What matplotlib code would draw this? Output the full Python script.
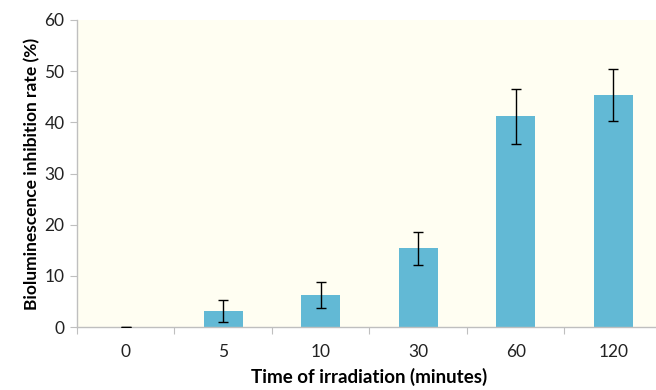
import numpy as np
import matplotlib.pyplot as plt

plt.rcParams['font.family'] = ['Lato', 'DejaVu Sans']

times = ['0', '5', '10', '30', '60', '120']
inhibition = [0.0, 3.1, 6.2, 15.4, 41.2, 45.3]
errors = [0.0, 2.2, 2.5, 3.2, 5.4, 5.1]

fig = plt.figure(figsize=(6.56, 3.9), dpi=100)
ax = fig.add_axes([77 / 656, 63 / 390, 585 / 656, 307 / 390])
ax.set_facecolor('#fffef2')

x = np.arange(len(times))
ax.bar(x, inhibition, width=0.4, color='#62b9d5', zorder=2)
ax.errorbar(x, inhibition, yerr=errors, fmt='none', ecolor='black',
            elinewidth=1, capsize=3.5, capthick=1, zorder=3)

ax.set_xlim(-0.5, len(times) - 0.5)
ax.set_ylim(0, 60)
ax.set_yticks(range(0, 61, 10))

# tick marks sit between categories, labels at the centres
ax.set_xticks(np.arange(-0.5, len(times), 1.0))
ax.set_xticklabels([])
ax.set_xticks(x, minor=True)
ax.set_xticklabels(times, minor=True)
ax.tick_params(axis='x', which='minor', length=0, pad=12, labelsize=12.5, colors='#222222')
ax.tick_params(axis='x', which='major', length=5, color='#bfbfbf')
ax.tick_params(axis='y', length=5, color='#bfbfbf', labelsize=12.5, labelcolor='#222222', pad=4)

for s in ['top', 'right']:
    ax.spines[s].set_visible(False)
for s in ['left', 'bottom']:
    ax.spines[s].set_color('#bfbfbf')
    ax.spines[s].set_linewidth(1)

ax.set_ylabel('Bioluminescence inhibition rate (%)', fontsize=12.5, fontweight='bold', labelpad=3)
ax.set_xlabel('Time of irradiation (minutes)', fontsize=13.5, fontweight='bold', labelpad=6)

fig.savefig('out.png', dpi=100)
